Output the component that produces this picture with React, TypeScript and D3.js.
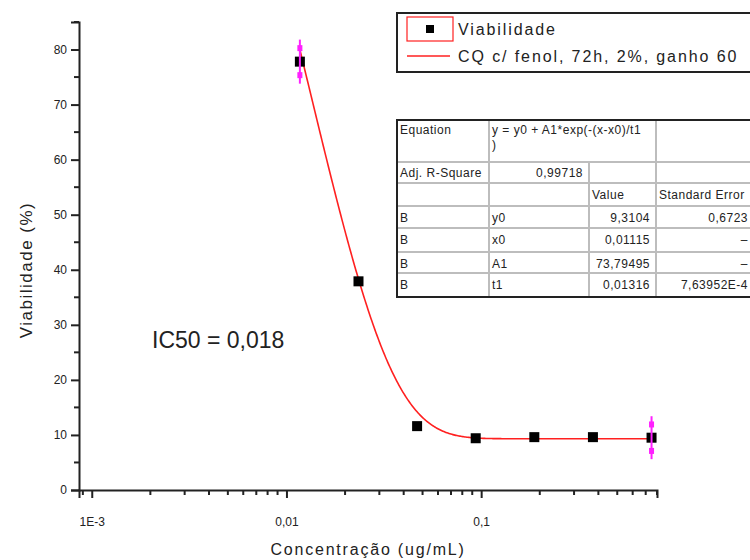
import React, { useEffect, useRef } from "react";
import * as d3 from "d3";

// measured points
const concentrations = [0.01172, 0.02344, 0.04688, 0.09375, 0.1875, 0.375, 0.75];
const viability = [77.8, 37.9, 11.6, 9.4, 9.6, 9.6, 9.5];
const errors = [4.0, 0, 0, 0, 0, 0, 3.9];

// fit parameters shown in the table
const paramNames = ["y0", "x0", "A1", "t1"];
const paramValues = [9.3104, 0.01115, 73.79495, 0.01316];
const paramValueLabels = ["9,3104", "0,01115", "73,79495", "0,01316"];
const paramErrorLabels = ["0,6723", "–", "–", "7,63952E-4"];
const adjRSquare = "0,99718";

const xTickValues = [0.001, 0.01, 0.1];
const xTickLabels = ["1E-3", "0,01", "0,1"];

const seriesName = "Viabilidade";
const fitName = "CQ c/ fenol, 72h, 2%, ganho 60";

const FONT = "'Liberation Sans', Arial, sans-serif";

const App = () => {
  const svgRef = useRef<SVGSVGElement>(null);

  useEffect(() => {
    const svg = d3.select(svgRef.current);
    svg.selectAll("*").remove();

    const left = 79;
    const right = 657;
    const top = 22;
    const bottom = 490;

    const xScale = d3.scaleLog().domain([0.00086, 0.8]).range([left, right]);
    const yScale = d3.scaleLinear().domain([0, 85]).range([bottom, top]);

    // y axis
    const yAxis = d3
      .axisLeft(yScale)
      .tickValues(d3.range(0, 81, 10))
      .tickSize(8)
      .tickPadding(4)
      .tickFormat(d3.format("d"));
    const gy = svg.append("g").attr("transform", `translate(${left},0)`).call(yAxis);
    gy.select(".domain").attr("stroke", "#222").attr("stroke-width", 2);
    gy.selectAll(".tick line").attr("stroke", "#222").attr("stroke-width", 2);
    gy.selectAll(".tick text")
      .attr("fill", "#222")
      .style("font-family", FONT)
      .style("font-size", "12px");
    gy.selectAll(".minor")
      .data(d3.range(5, 86, 10))
      .enter()
      .append("line")
      .attr("x1", -5)
      .attr("x2", 0)
      .attr("y1", (d) => yScale(d))
      .attr("y2", (d) => yScale(d))
      .attr("stroke", "#222")
      .attr("stroke-width", 2);

    // x axis
    const xAxis = d3
      .axisBottom(xScale)
      .tickValues(xTickValues)
      .tickSize(8)
      .tickPadding(19)
      .tickFormat((d, i) => xTickLabels[i]);
    const gx = svg.append("g").attr("transform", `translate(0,${bottom})`).call(xAxis);
    gx.select(".domain").attr("stroke", "#222").attr("stroke-width", 2);
    gx.selectAll(".tick line").attr("stroke", "#222").attr("stroke-width", 2);
    gx.selectAll(".tick text")
      .attr("fill", "#222")
      .style("font-family", FONT)
      .style("font-size", "12px");
    const minorX = xScale
      .ticks(30)
      .filter((d) => !xTickValues.some((t) => Math.abs(t - d) < 1e-9));
    gx.selectAll(".minor")
      .data(minorX)
      .enter()
      .append("line")
      .attr("x1", (d) => xScale(d))
      .attr("x2", (d) => xScale(d))
      .attr("y1", 0)
      .attr("y2", 5)
      .attr("stroke", "#222")
      .attr("stroke-width", 2);

    // axis titles
    svg
      .append("text")
      .attr("transform", `translate(32,${(top + bottom) / 2 + 14}) rotate(-90)`)
      .attr("text-anchor", "middle")
      .style("font-family", FONT)
      .style("font-size", "17px")
      .style("letter-spacing", "1.5px")
      .attr("fill", "#222")
      .text("Viabilidade (%)");
    svg
      .append("text")
      .attr("x", 368)
      .attr("y", 555)
      .attr("text-anchor", "middle")
      .style("font-family", FONT)
      .style("font-size", "16px")
      .style("letter-spacing", "1.8px")
      .attr("fill", "#222")
      .text("Concentração (ug/mL)");

    // fit curve
    const [y0, x0, A1, t1] = paramValues;
    const fitLine = d3
      .line<number>()
      .x((d) => xScale(d))
      .y((d) => yScale(y0 + A1 * Math.exp(-(d - x0) / t1)));
    const x1 = concentrations[0];
    const x2 = concentrations[concentrations.length - 1];
    const samples = d3
      .range(xScale(x1), xScale(x2) + 0.5, 1)
      .map((px) => xScale.invert(px));
    svg
      .append("path")
      .attr("d", fitLine(samples))
      .attr("fill", "none")
      .attr("stroke", "#ff2020")
      .attr("stroke-width", 1.6);

    // points
    const pts = concentrations.map((c, i) => ({ c, v: viability[i], e: errors[i] }));
    svg
      .selectAll(".pt")
      .data(pts)
      .enter()
      .append("rect")
      .attr("x", (d) => xScale(d.c) - 5)
      .attr("y", (d) => yScale(d.v) - 5)
      .attr("width", 10)
      .attr("height", 10)
      .attr("fill", "#000");

    // error bars
    const eb = svg.selectAll(".eb").data(pts.filter((d) => d.e > 0)).enter().append("g");
    eb.append("line")
      .attr("x1", (d) => xScale(d.c))
      .attr("x2", (d) => xScale(d.c))
      .attr("y1", (d) => yScale(d.v + d.e))
      .attr("y2", (d) => yScale(d.v - d.e))
      .attr("stroke", "#ff20ff")
      .attr("stroke-width", 2);
    [1, -1].forEach((s) => {
      eb.append("rect")
        .attr("x", (d) => xScale(d.c) - 2.5)
        .attr("y", (d) => {
          const yEnd = yScale(d.v + s * d.e);
          const yEdge = yScale(d.v) - s * 5;
          return (yEnd + yEdge) / 2 - 3;
        })
        .attr("width", 5)
        .attr("height", 6)
        .attr("fill", "#ff20ff");
    });

    // IC50 annotation
    svg
      .append("text")
      .attr("x", 152)
      .attr("y", 348)
      .style("font-family", FONT)
      .style("font-size", "23px")
      .attr("fill", "#222")
      .text("IC50 = 0,018");

    // legend
    const lg = svg.append("g");
    lg.append("rect")
      .attr("x", 397)
      .attr("y", 13)
      .attr("width", 380)
      .attr("height", 59)
      .attr("fill", "#fff")
      .attr("stroke", "#222")
      .attr("stroke-width", 2);
    lg.append("rect")
      .attr("x", 407)
      .attr("y", 17)
      .attr("width", 46)
      .attr("height", 24)
      .attr("fill", "none")
      .attr("stroke", "#ff2020")
      .attr("stroke-width", 1.2);
    lg.append("rect").attr("x", 426).attr("y", 25).attr("width", 8).attr("height", 8).attr("fill", "#000");
    lg.append("line")
      .attr("x1", 407)
      .attr("x2", 450)
      .attr("y1", 56)
      .attr("y2", 56)
      .attr("stroke", "#ff2020")
      .attr("stroke-width", 1.6);
    [seriesName, fitName].forEach((t, i) => {
      lg.append("text")
        .attr("x", 458)
        .attr("y", 35 + i * 27)
        .style("font-family", FONT)
        .style("font-size", "16px")
        .style("letter-spacing", "1.9px")
        .attr("fill", "#222")
        .text(t);
    });

    // parameter table
    const tb = svg.append("g");
    const colX = [397, 489, 589, 656, 780];
    const rowY = [120, 162, 183, 206, 228, 252, 273, 297];
    tb.append("rect")
      .attr("x", colX[0])
      .attr("y", rowY[0])
      .attr("width", colX[4] - colX[0])
      .attr("height", rowY[7] - rowY[0])
      .attr("fill", "#fff");
    const grid = "#bdbdbd";
    rowY.slice(1, 7).forEach((y) => {
      tb.append("line")
        .attr("x1", colX[0])
        .attr("x2", colX[4])
        .attr("y1", y)
        .attr("y2", y)
        .attr("stroke", grid)
        .attr("stroke-width", 2);
    });
    // column separators (some cells are merged)
    const vline = (x: number, ya: number, yb: number) =>
      tb.append("line")
        .attr("x1", x)
        .attr("x2", x)
        .attr("y1", ya)
        .attr("y2", yb)
        .attr("stroke", grid)
        .attr("stroke-width", 2);
    vline(colX[1], rowY[0], rowY[7]);
    vline(colX[2], rowY[1], rowY[7]);
    vline(colX[3], rowY[0], rowY[7]);
    tb.append("rect")
      .attr("x", colX[0])
      .attr("y", rowY[0])
      .attr("width", colX[4] - colX[0])
      .attr("height", rowY[7] - rowY[0])
      .attr("fill", "none")
      .attr("stroke", "#222")
      .attr("stroke-width", 2);

    const cell = (t: string, x: number, y: number, anchor = "start") =>
      tb.append("text")
        .attr("x", x)
        .attr("y", y)
        .attr("text-anchor", anchor)
        .style("font-family", FONT)
        .style("font-size", "12px")
        .style("letter-spacing", "0.5px")
        .attr("fill", "#222")
        .text(t);

    cell("Equation", colX[0] + 3, rowY[0] + 14);
    cell("y = y0 + A1*exp(-(x-x0)/t1", colX[1] + 3, rowY[0] + 14);
    cell(")", colX[1] + 3, rowY[0] + 29);
    cell("Adj. R-Square", colX[0] + 3, rowY[1] + 15);
    cell(adjRSquare, colX[2] - 6, rowY[1] + 15, "end");
    cell("Value", colX[2] + 3, rowY[2] + 16);
    cell("Standard Error", colX[3] + 3, rowY[2] + 16);
    paramNames.forEach((n, i) => {
      const y = rowY[3 + i] + 16;
      cell("B", colX[0] + 3, y);
      cell(n, colX[1] + 3, y);
      cell(paramValueLabels[i], colX[3] - 6, y, "end");
      cell(paramErrorLabels[i], 748, y, "end");
    });
  }, []);

  return (
    <svg
      ref={svgRef}
      width={750}
      height={560}
      style={{ position: "absolute", left: 0, top: 0, background: "#fff" }}
    />
  );
};

export default App;
